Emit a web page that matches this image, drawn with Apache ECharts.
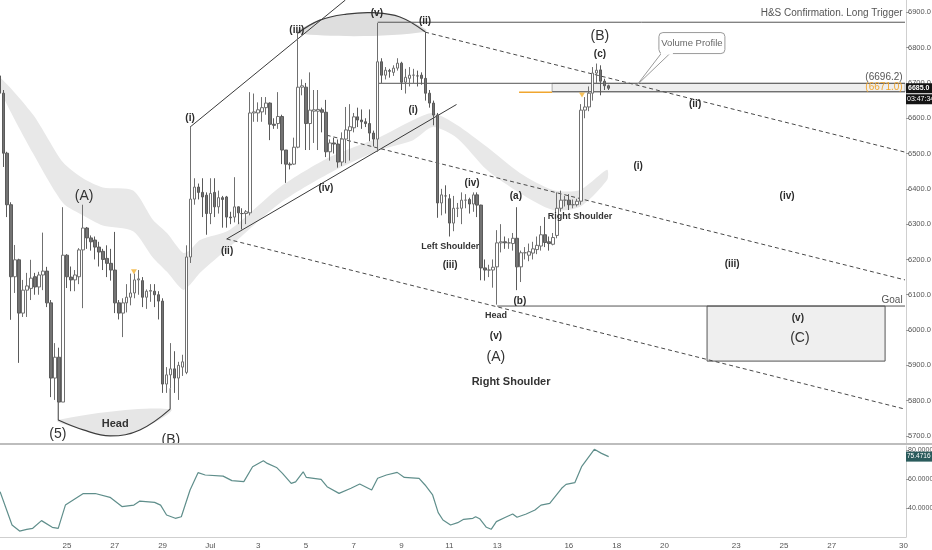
<!DOCTYPE html>
<html><head><meta charset="utf-8">
<script src="https://cdn.jsdelivr.net/npm/echarts@6/dist/echarts.min.js"></script>
<style>html,body{margin:0;padding:0;background:#fff}#c{width:932px;height:550px}</style>
</head><body><div id="c"></div>
<script>
// 4-hour bars; bar 0 = 25 Jun 00:00, first visible bar is -17
const firstBar = -17;
const barOpen = [6720,6671,6501,6355,6151,6199,6048,6113,6118,6151,6122,6156,6167,6077,5864,5923,5796,
 6212,6150,6142,6151,6227,6289,6261,6255,6235,6223,6203,6189,6170,6077,6048,6077,6093,6105,6142,6140,6093,6110,6110,6100,6082,
 5847,5873,5890,5864,5895,5880,6207,6371,6405,6390,6382,6330,6390,6349,6375,6377,6320,6320,6349,6330,6330,6332,6615,6615,6618,
 6630,6643,6583,6585,6605,6510,6470,6470,6518,6688,6688,6585,6620,6620,6624,6617,6505,6530,6527,6476,6541,6565,6573,6604,6595,
 6590,6585,6558,6541,6760,6722,6735,6730,6742,6756,6702,6713,6722,6720,6722,6713,6671,6643,6609,6360,6380,6372,6303,6345,6345,
 6368,6370,6357,6383,6354,6176,6170,6170,6179,6247,6250,6247,6245,6260,6179,6219,6212,6218,6228,6238,6270,6250,6243,6268,6345,
 6368,6368,6355,6355,6365,6623,6632,6671,6728,6737,6705,6692];
const barClose = [6671,6501,6355,6151,6199,6048,6113,6125,6147,6122,6156,6167,6077,5864,5923,5796,6212,
 6151,6142,6156,6227,6289,6261,6250,6235,6221,6200,6189,6170,6077,6048,6077,6093,6105,6142,6145,6093,6110,6112,6100,6082,5847,
 5873,5890,5864,5900,5910,6207,6371,6405,6390,6377,6330,6387,6349,6375,6370,6320,6318,6349,6332,6330,6335,6615,6618,6624,6630,
 6643,6583,6580,6605,6510,6470,6468,6518,6688,6692,6585,6623,6624,6625,6617,6505,6530,6527,6476,6541,6567,6576,6604,6595,6590,
 6585,6558,6541,6760,6722,6736,6733,6742,6756,6702,6716,6722,6722,6720,6713,6671,6643,6609,6360,6383,6380,6303,6345,6345,6368,
 6368,6357,6383,6354,6176,6170,6170,6178,6247,6250,6247,6247,6260,6179,6219,6219,6222,6230,6240,6270,6248,6245,6262,6345,6368,
 6368,6355,6355,6365,6623,6632,6671,6728,6736,6705,6692,6685];
const barLow = [6660,6462,6320,6029,6105,5907,6037,6037,6085,6100,6100,6113,6065,5810,5802,5796,5796,
 6119,6110,6110,6130,6062,6230,6225,6200,6180,6170,6150,6140,6048,6030,5980,6050,6070,6090,6100,6065,6060,6080,6065,6030,5822,
 5822,5835,5822,5802,5870,5875,6190,6355,6370,6320,6270,6300,6320,6330,6290,6290,6300,6305,6300,6285,6300,6325,6590,6590,6590,
 6610,6538,6570,6570,6470,6417,6455,6468,6515,6665,6510,6510,6530,6510,6560,6490,6480,6500,6460,6465,6473,6480,6560,6575,6570,
 6575,6535,6520,6505,6700,6710,6715,6720,6735,6680,6670,6690,6700,6690,6695,6650,6630,6580,6318,6325,6330,6265,6280,6320,6300,
 6345,6330,6335,6320,6141,6140,6150,6120,6072,6220,6230,6230,6225,6113,6136,6200,6195,6200,6215,6225,6235,6225,6240,6260,6335,
 6350,6340,6345,6350,6355,6600,6620,6650,6700,6665,6680,6680];
const barHigh = [6735,6680,6505,6362,6241,6202,6142,6162,6199,6162,6165,6276,6179,6085,5963,5950,6348,
 6215,6180,6170,6232,6355,6292,6268,6265,6250,6230,6240,6230,6278,6085,6090,6130,6160,6160,6170,6150,6115,6130,6130,6110,6090,
 5895,5963,5940,5910,5930,6240,6575,6430,6415,6430,6390,6430,6430,6395,6380,6380,6335,6433,6350,6345,6340,6674,6670,6645,6660,
 6660,6645,6600,6674,6610,6510,6475,6545,6840,6710,6700,6730,6680,6680,6630,6652,6540,6545,6540,6560,6632,6640,6615,6630,6625,
 6600,6625,6565,6870,6770,6745,6740,6750,6770,6760,6740,6745,6740,6735,6730,6845,6680,6650,6615,6400,6410,6385,6380,6360,6390,
 6385,6375,6390,6390,6355,6200,6185,6200,6283,6300,6265,6260,6275,6348,6225,6235,6245,6250,6265,6295,6320,6265,6275,6390,6395,
 6380,6385,6370,6372,6640,6660,6690,6745,6755,6750,6712,6695];

// date axis ticks (bar index -> label)
const tickBars = [0,12,24,36,48,60,72,84,96,108,126,138,150,168,180,192,210];
const tickLabels = ['25','27','29','Jul','3','5','7','9','11','13','16','18','20','23','25','27','30'];
const priceTicks = [5700,5800,5900,6000,6100,6200,6300,6400,6500,6600,6700,6800,6900];
const rsiTicks = [40,60,80];

// oscillator (read at points along the line)
const rsiBar = [-16.8,-13.8,-11.9,-10.1,-8.6,-6.4,-3.7,-2.2,-0.4,4.1,7.1,10.8,13.8,16.8,18.3,22,23.5,25,27.2,28.7,30.9,32.9,34.7,
 39.2,41.4,44.4,46.6,49.3,50.3,52.6,54.1,56.3,57.4,59.3,60.1,63.8,65.3,68.3,71.3,73.5,76.5,78,80.2,82.9,84.7,88.4,89.9,91.8,
 93.2,94.4,96.3,98.1,99.6,101.9,102.6,103.6,105.3,106.5,107.8,110.1,111.9,113,115.3,117.5,119,121.2,124.2,125.3,127.5,129.2,
 132.4,134.2,136];
const rsiValue = [51.3,28.3,24.1,25.3,26,31.3,26.7,26,42,50,50,47.4,41,42,44.8,43.9,42,35.2,32.9,34,52.4,64.4,62.8,
 62,58.9,58.2,68.5,72.6,70.8,68,63.9,57,58,65,61.1,59.8,54.7,50.1,53.6,56.6,52.4,60.5,62.8,64.6,61.1,60.5,55.9,49,
 36.8,31.7,28.3,29.9,32.2,32.9,34,32.6,26.7,25.3,30.6,33.6,35.9,33.6,35.9,38.6,42,43.2,53.6,56.3,57.5,68.5,
 80.5,77.7,75.47];

// grey moving-average ribbon (upper / lower edge)
const bandBar = [-16.8,-8.5,-1,4,9,16.6,21.6,25.1,29.1,30.9,33.4,40.9,53.5,66,78.6,86.9,91.9,97.9,105.4,113.7,122,128.8,135.6];
const bandTop = [6715,6610,6475,6430,6404,6395,6312,6275,6219,6227,6255,6284,6405,6490,6547,6595,6615,6581,6519,6445,6397,6397,6454];
const bandBottom = [6680,6500,6360,6325,6296,6280,6205,6165,6114,6128,6162,6236,6360,6445,6510,6538,6575,6544,6454,6388,6340,6349,6425];

// drawn trend lines [bar1, price1, bar2, price2]
const solidLines = [[30.9,6575,69.9,6935],[40.1,6258,97.8,6639],[-2.2,5796,-2.2,5745],[25.9,5835,25.9,5776]];
const dashedLines = [[89.9,6844,210.4,6504],[65.2,6552,210.4,6142],[40.1,6258,210.4,5776]];
const levelLines = [[78,6872,210.4,6872],[78,6699,210.4,6699],[121.8,6675,210.4,6675],[108,6068,210.4,6068]];
const pocLine = [[113.5,6674,121.8,6674]];
const vpBox = [[121.8,6699,210.4,6675]];
const goalBox = [[160.7,6068,205.4,5912]];

// arcs
const headArcBar = [-2.2,4.1,10.8,18.3,25.9];
const headArcPrice = [5745,5717,5700,5717,5776];
const topArcBar = [57.8,63.5,70.2,76.9,83.6,89.9];
const topArcPrice = [6840,6878,6895,6899,6887,6845];

// text annotations [text, bar, price]
const waveLabels = [['(i)',30.9,6601],['(ii)',40.2,6224],['(iii)',57.7,6850],['(iv)',65,6402],['(v)',77.8,6898],
 ['(ii)',89.9,6875],['(i)',86.9,6623],['(iv)',101.7,6416],['(iii)',96.2,6184],['(a)',112.7,6380],['(b)',113.7,6082],
 ['(v)',107.7,5983],['(c)',133.8,6780],['(ii)',157.7,6640],['(i)',143.4,6464],['(iv)',180.8,6379],['(iii)',167,6187],['(v)',183.5,6034]];
const degreeLabels = [['(A)',4.3,6380],['(5)',-2.3,5705],['(B)',26.1,5688],['(A)',107.7,5923],['(B)',133.8,6833],['(C)',184,5977]];
const patternLabels = [['Left Shoulder',96.2,6238],['Head',107.7,6042],['Right Shoulder',128.8,6323]];
const bigPatternLabels = [['Head',12.1,5734],['Right Shoulder',111.5,5852]];
const levelNotes = [['H&S Confirmation. Long Trigger',209.8,6897],['Goal',209.8,6085],['(6696.2)',209.8,6717]];
const pocNote = [['(6671.0)',209.8,6687]];
const callout = {text:'Volume Profile', bar:156.9, price:6813, tipBar:143.1, tipPrice:6694};
const alertMarks = [[16.8,6165],[129.3,6666]];
const lastBar = 136, lastPrice = 6685.0, countdown = '03:47:34', lastRsi = 75.4716;

const FONT = '"Liberation Sans", Arial, sans-serif';
const NARROW = '"Liberation Sans Narrow", "Liberation Sans", Arial, sans-serif';
const candles = barOpen.map((o,i)=>[firstBar+i, o, barClose[i], barLow[i], barHigh[i]]);
const xMin = -16.82, xMax = 210.65;

function segSeries(list, style, z){
  return {type:'custom', xAxisIndex:0, yAxisIndex:0, clip:true, silent:true, z:z||4, data:list, encode:{x:[0,2],y:[1,3]},
    renderItem:(params, api)=>{
      const a = api.coord([api.value(0), api.value(1)]), b = api.coord([api.value(2), api.value(3)]);
      return {type:'line', shape:{x1:a[0],y1:a[1],x2:b[0],y2:b[1]}, style:Object.assign({fill:null}, style)};
    }};
}
function rectSeries(list, style, z){
  return {type:'custom', xAxisIndex:0, yAxisIndex:0, clip:true, silent:true, z:z||2, data:list, encode:{x:[0,2],y:[1,3]},
    renderItem:(params, api)=>{
      const a = api.coord([api.value(0), api.value(1)]), b = api.coord([api.value(2), api.value(3)]);
      return {type:'rect', shape:{x:Math.min(a[0],b[0]), y:Math.min(a[1],b[1]), width:Math.abs(b[0]-a[0]), height:Math.abs(b[1]-a[1])}, style};
    }};
}
function textSeries(list, font, color, align){
  return {type:'custom', xAxisIndex:0, yAxisIndex:0, clip:true, silent:true, z:7, data:list.map(t=>[t[1],t[2]]), encode:{x:0,y:1},
    renderItem:(params, api)=>{
      const p = api.coord([api.value(0), api.value(1)]);
      return {type:'text', x:p[0], y:p[1], style:{text:list[params.dataIndex][0], font, fill:color, align:align||'center', verticalAlign:'middle'}};
    }};
}
function arcSeries(bars, prices, fill){
  return {type:'custom', xAxisIndex:0, yAxisIndex:0, clip:true, silent:true, z:3, data:[[bars[0],prices[0]]], encode:{x:0,y:1},
    renderItem:(params, api)=>{
      const pts = bars.map((b,i)=>api.coord([b, prices[i]]));
      return {type:'group', children:[
        {type:'polygon', shape:{points:pts, smooth:0.4}, style:{fill, stroke:null}},
        {type:'polyline', shape:{points:pts, smooth:0.4}, style:{fill:null, stroke:'#3c3c3c', lineWidth:1.2}}
      ]};
    }};
}
const axisLineStyle = {show:true, onZero:false, lineStyle:{color:'#cfcfcf'}};

const option = {
  animation:false, backgroundColor:'#ffffff',
  grid:[{left:0,right:26,top:0,height:443,outerBoundsMode:'none'},{left:0,right:26,top:446,height:91,outerBoundsMode:'none'}],
  xAxis:[
    {type:'value', gridIndex:0, min:xMin, max:xMax, axisLine:{show:false, onZero:false}, axisTick:{show:false}, axisLabel:{show:false}, splitLine:{show:false}},
    {type:'value', gridIndex:1, min:xMin, max:xMax, axisLine:axisLineStyle, axisTick:{show:false}, splitLine:{show:false},
     axisLabel:{customValues:tickBars, formatter:v=>{const i=tickBars.indexOf(v); return i<0?'':tickLabels[i];}, color:'#555', fontSize:8, fontFamily:FONT, margin:5}}
  ],
  yAxis:[
    {type:'value', gridIndex:0, position:'right', min:5680, max:6935, splitLine:{show:false},
     axisLine:axisLineStyle, axisTick:{show:true, customValues:priceTicks, length:3, lineStyle:{color:'#999'}},
     axisLabel:{customValues:priceTicks, formatter:v=>v.toFixed(1), color:'#555', fontSize:7.5, fontFamily:NARROW, margin:2}},
    {type:'value', gridIndex:1, position:'right', min:20, max:82.8, splitLine:{show:false},
     axisLine:axisLineStyle, axisTick:{show:true, customValues:rsiTicks, length:3, lineStyle:{color:'#999'}},
     axisLabel:{customValues:rsiTicks, formatter:v=>v.toFixed(4), color:'#555', fontSize:7, fontFamily:NARROW, margin:2}}
  ],
  graphic:[{type:'line', shape:{x1:0,y1:444,x2:932,y2:444}, style:{stroke:'#bdbdbd', lineWidth:2}, z:100}],
  series:[
    {type:'custom', xAxisIndex:0, yAxisIndex:0, clip:true, silent:true, z:1, data:[[bandBar[0], bandTop[0]]], encode:{x:0,y:1},
     renderItem:(params, api)=>{
       const top = bandBar.map((b,i)=>api.coord([b, bandTop[i]]));
       const bot = bandBar.map((b,i)=>api.coord([b, bandBottom[i]])).reverse();
       return {type:'polygon', shape:{points:top.concat(bot), smooth:0.25}, style:{fill:'#e8e8e8'}};
     }},
    arcSeries(headArcBar, headArcPrice, '#e6e6e6'),
    arcSeries(topArcBar, topArcPrice, '#dedede'),
    rectSeries(vpBox, {fill:'#eeeeee', stroke:'#aaaaaa', lineWidth:1}, 2),
    rectSeries(goalBox, {fill:'#efefef', stroke:'#555555', lineWidth:1}, 2),
    segSeries(solidLines, {stroke:'#3a3a3a', lineWidth:1}, 4),
    segSeries(dashedLines, {stroke:'#4a4a4a', lineWidth:1, lineDash:[4,3]}, 4),
    segSeries(levelLines, {stroke:'#555555', lineWidth:1}, 4),
    segSeries(pocLine, {stroke:'#f0a630', lineWidth:1.5}, 4),
    {type:'candlestick', xAxisIndex:0, yAxisIndex:0, layout:'horizontal', data:candles, barWidth:3, z:5, clip:true, silent:true,
     itemStyle:{color:'#ffffff', color0:'#737373', borderColor:'#707070', borderColor0:'#5a5a5a', borderWidth:1}},
    {type:'scatter', xAxisIndex:0, yAxisIndex:0, data:alertMarks, symbol:'triangle', symbolRotate:180, symbolSize:[6,5], z:6, silent:true,
     itemStyle:{color:'#f2b233'}},
    textSeries(waveLabels, 'bold 10px '+FONT, '#2b2b2b'),
    textSeries(degreeLabels, '14px '+FONT, '#333333'),
    textSeries(patternLabels, 'bold 9px '+FONT, '#333333'),
    textSeries(bigPatternLabels, 'bold 11px '+FONT, '#333333'),
    textSeries(levelNotes, '10px '+FONT, '#555555', 'right'),
    textSeries(pocNote, '10px '+FONT, '#f0a630', 'right'),
    {type:'custom', xAxisIndex:0, yAxisIndex:0, clip:false, silent:true, z:8, data:[[callout.bar, callout.price]], encode:{x:0,y:1},
     renderItem:(params, api)=>{
       const c = api.coord([api.value(0), api.value(1)]);
       const t = api.coord([callout.tipBar, callout.tipPrice]);
       const w = 66, h = 21, x0 = c[0]-w/2, y0 = c[1]-h/2;
       return {type:'group', children:[
         {type:'polygon', shape:{points:[[x0+3,y0+h-1],[t[0],t[1]],[x0+12,y0+h-1]]}, style:{fill:'#ffffff', stroke:'#9a9a9a', lineWidth:1}},
         {type:'rect', shape:{x:x0, y:y0, width:w, height:h, r:4}, style:{fill:'#ffffff', stroke:'#9a9a9a', lineWidth:1}},
         {type:'rect', shape:{x:x0+2, y:y0+h-3, width:12, height:4}, style:{fill:'#ffffff'}},
         {type:'text', x:c[0], y:c[1], style:{text:callout.text, font:'9.5px '+FONT, fill:'#666', align:'center', verticalAlign:'middle'}}
       ]};
     }},
    {type:'custom', xAxisIndex:0, yAxisIndex:0, clip:false, silent:true, z:9, data:[[lastBar, lastPrice]], encode:{x:0,y:1},
     renderItem:(params, api)=>{
       const p = api.coord([api.value(0), api.value(1)]);
       const x0 = params.coordSys.x + params.coordSys.width;
       return {type:'group', children:[
         {type:'rect', shape:{x:x0, y:p[1]-5, width:26, height:10}, style:{fill:'#141414'}},
         {type:'text', x:x0+2, y:p[1], style:{text:lastPrice.toFixed(1), font:'bold 7px '+NARROW, fill:'#fff', align:'left', verticalAlign:'middle'}},
         {type:'rect', shape:{x:x0, y:p[1]+6, width:26, height:10}, style:{fill:'#141414'}},
         {type:'text', x:x0+1, y:p[1]+11, style:{text:countdown, font:'7px '+NARROW, fill:'#fff', align:'left', verticalAlign:'middle'}}
       ]};
     }},
    {type:'line', xAxisIndex:1, yAxisIndex:1, data:rsiBar.map((b,i)=>[b, rsiValue[i]]), symbol:'none', silent:true,
     lineStyle:{color:'#5f8e8b', width:1.2}},
    {type:'custom', xAxisIndex:1, yAxisIndex:1, clip:false, silent:true, z:9, data:[[lastBar, lastRsi]], encode:{x:0,y:1},
     renderItem:(params, api)=>{
       const p = api.coord([api.value(0), api.value(1)]);
       const x0 = params.coordSys.x + params.coordSys.width;
       return {type:'group', children:[
         {type:'rect', shape:{x:x0, y:p[1]-5, width:26, height:10}, style:{fill:'#2a5b5c'}},
         {type:'text', x:x0+1, y:p[1], style:{text:lastRsi.toFixed(4), font:'6.5px '+NARROW, fill:'#fff', align:'left', verticalAlign:'middle'}}
       ]};
     }}
  ]
};
const chart = echarts.init(document.getElementById('c'));
chart.setOption(option);
</script></body></html>
